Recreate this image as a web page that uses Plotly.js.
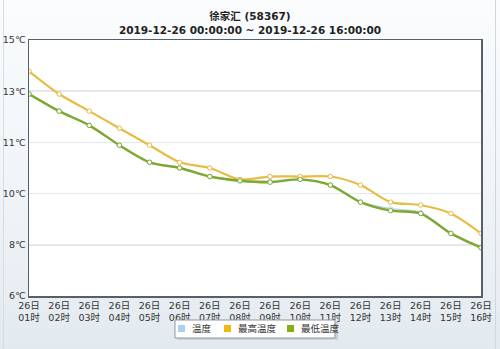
<!DOCTYPE html>
<html><head><meta charset="utf-8">
<script src="https://cdn.plot.ly/plotly-3.0.1.min.js"></script>
<style>
html,body{margin:0;padding:0;}
body{width:500px;height:349px;background:linear-gradient(to bottom,#fafcfd 0%,#f1f5f8 50%,#e3eaef 100%);}
#frame{position:absolute;left:3px;top:0;width:493px;height:349px;border-left:1px solid #d6dde3;border-right:1px solid #cfd7de;box-sizing:border-box;}
#chart{position:absolute;left:0;top:0;width:500px;height:349px;}
</style></head>
<body><div id="frame"></div><div id="chart"></div>
<script>
const hours = ["01","02","03","04","05","06","07","08","09","10","11","12","13","14","15","16"];
const tickLabels = hours.map(h => "26日<br>" + h + "时");
const tempVals = [13.1,12.5,12.0,11.3,10.7,10.5,10.2,10.05,10.03,10.1,9.9,9.3,9.06,8.93,8.2,7.7];
const maxVals  = [13.9,13.1,12.5,11.9,11.3,10.7,10.5,10.1,10.2,10.2,10.2,9.9,9.3,9.2,8.9,8.2];
const minVals  = [13.1,12.5,12.0,11.3,10.7,10.5,10.2,10.05,10.0,10.1,9.9,9.3,9.0,8.9,8.2,7.7];
const yTickVals = [6,7.8,9.6,11.4,13.2,15];
const yTickText = yTickVals.map(v => Math.round(v) + "℃");
const legendNames = ["温度","最高温度","最低温度"];
const legendColors = ["#a9d0f0","#f2b90c","#86ad12"];

const x = hours.map((h,i)=>i);
function series(y, color, w){
  return {x:x, y:y, type:"scatter", mode:"lines+markers",
    line:{color:color, width:w, shape:"spline", smoothing:0.8},
    marker:{size:4.5, color:"#ffffff", line:{color:color, width:1}},
    showlegend:false, hoverinfo:"skip"};
}
const data = [
  series(tempVals, "#b5d6f2", 2),
  series(maxVals, "#e8bb45", 2.2),
  series(minVals, "#7ea82e", 2.4)
];
const font = "Tahoma, 'DejaVu Sans', 'Noto Sans CJK SC', sans-serif";

// manual legend (paper coordinates)
const sqX = [0.3296, 0.4314, 0.5708];
const shapes = [
  {type:"rect", xref:"paper", yref:"paper", x0:0.3274, x1:0.6836, y0:-0.1709, y1:-0.1016,
    fillcolor:"#c9cfd4", line:{width:0}, layer:"above"},
  {type:"rect", xref:"paper", yref:"paper", x0:0.3230, x1:0.6770, y0:-0.1641, y1:-0.0938,
    fillcolor:"#ffffff", line:{color:"#8f989f", width:1}, layer:"above"}
];
const annotations = [];
legendNames.forEach((n,i)=>{
  shapes.push({type:"rect", xref:"paper", yref:"paper", x0:sqX[i], x1:sqX[i]+0.0155, y0:-0.1406, y1:-0.1133,
    fillcolor:legendColors[i], line:{width:0}, layer:"above"});
  annotations.push({xref:"paper", yref:"paper", x:sqX[i]+0.0265, y:-0.127, text:n, showarrow:false,
    xanchor:"left", yanchor:"middle", font:{family:font, size:9.5, color:"#333"}});
});

const layout = {
  width:500, height:349,
  paper_bgcolor:"rgba(0,0,0,0)", plot_bgcolor:"#ffffff",
  margin:{l:29, r:19, t:40, b:53},
  title:{text:"<b>徐家汇 (58367)</b><br><b>2019-12-26 00:00:00 ~ 2019-12-26 16:00:00</b>",
    font:{family:font, size:10.5, color:"#222"}, x:0.5, xanchor:"center",
    yref:"container", y:0.943, yanchor:"middle"},
  xaxis:{range:[0,15], tickvals:x, ticktext:tickLabels, showgrid:false, zeroline:false,
    showline:true, mirror:true, linecolor:"#56606a", linewidth:1.5, ticks:"",
    tickfont:{family:font, size:9.5, color:"#333"}},
  yaxis:{range:[6,15], tickvals:yTickVals, ticktext:yTickText, showgrid:true, gridcolor:"#e3e8ec", gridwidth:1.5,
    zeroline:false, showline:true, mirror:true, linecolor:"#56606a", linewidth:1.5, ticks:"",
    tickfont:{family:font, size:9.5, color:"#333"}},
  showlegend:false,
  shapes:shapes,
  annotations:annotations,
  hovermode:false
};
Plotly.newPlot("chart", data, layout, {displayModeBar:false, staticPlot:true});
</script></body></html>
